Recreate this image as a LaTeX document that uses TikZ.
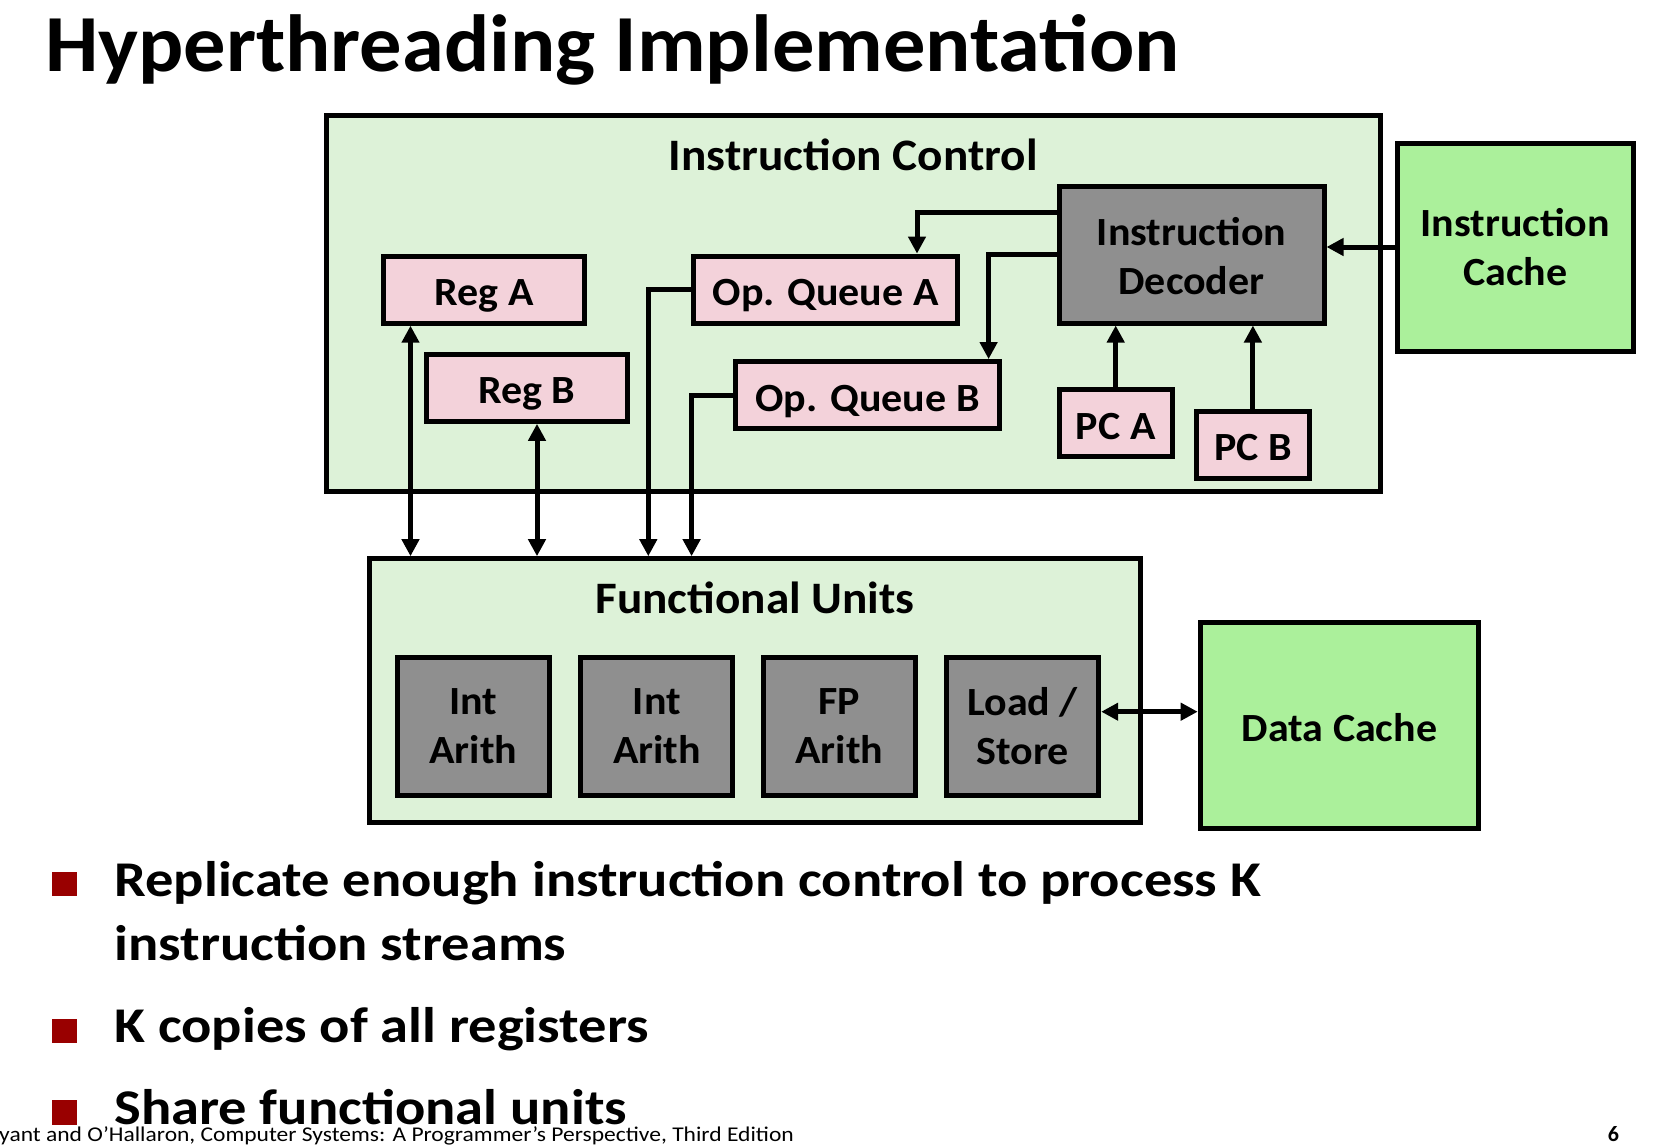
\documentclass[tikz,border=0pt]{standalone}
\usepackage{fontspec}
\setmainfont{Carlito}
\newfontfamily\titleface{Carlito}[FakeStretch=1.043]
\newfontfamily\boxface{Carlito}[FakeStretch=1.05]
\newfontfamily\bulletface{Carlito}[FakeStretch=1.13]
\newfontfamily\footface{Carlito}[FakeStretch=1.12]
\usetikzlibrary{arrows.meta}

\definecolor{ctrlgreen}{RGB}{221,242,216}
\definecolor{cachegreen}{RGB}{171,240,155}
\definecolor{regpink}{RGB}{243,210,218}
\definecolor{unitgray}{RGB}{143,143,143}
\definecolor{bulletred}{RGB}{153,0,0}

\begin{document}
\begin{tikzpicture}[x=1pt,y=-1pt,
  boxfont/.style={font=\boxface\bfseries\fontsize{40}{49}\selectfont},
  box/.style={draw=black, line width=5pt, inner sep=0pt, align=center, boxfont},
  oneline/.style={text height=32pt, text depth=0pt},
  pinkbox/.style={box, oneline, fill=regpink, minimum height=67pt},
  graybox/.style={box, fill=unitgray},
  unitbox/.style={graybox, minimum width=152pt, minimum height=138pt},
  cachebox/.style={box, fill=cachegreen},
  areabox/.style={draw=black, line width=5pt, fill=ctrlgreen, inner sep=0pt},
  seclabel/.style={font=\boxface\bfseries\fontsize{45}{52}\selectfont, inner sep=0pt, anchor=base},
  arr/.style={line width=5pt, -{Triangle[length=17pt,width=17pt]}},
  darr/.style={line width=5pt, {Triangle[length=17pt,width=17pt]}-{Triangle[length=17pt,width=17pt]}},
  bulletsq/.style={fill=bulletred, minimum size=24.5pt, inner sep=0pt},
  bullettext/.style={font=\bulletface\bfseries\fontsize{50}{60}\selectfont, inner sep=0pt, anchor=base west}
]
\useasboundingbox (0,0) rectangle (1673,1144);
\fill[white] (0,0) rectangle (1673,1144);

% title
\node[font=\titleface\bfseries\fontsize{81}{90}\selectfont, inner sep=0pt, anchor=base west]
  (title) at (44.8,71.7) {Hyperthreading Implementation};

% instruction control area
\node[areabox, minimum width=1053.5pt, minimum height=375.5pt] (ic) at (853.25,303.25) {};
\node[seclabel] (iclabel) at (853.25,170.7) {Instruction Control};

\node[graybox, minimum width=265pt, minimum height=137pt] (dec) at (1191.5,254.5) {\rule{0pt}{32pt}Instruction\\Decoder};
\node[cachebox, minimum width=236pt, minimum height=208pt] (icache) at (1515.4,247) {Instruction\\Cache};

\node[pinkbox, minimum width=113pt] (pca) at (1115.7,423.2) {PC A};
\node[pinkbox, minimum width=113pt] (pcb) at (1252.9,444.5) {PC B};

\node[pinkbox, minimum width=201pt] (rega) at (484.1,289.7) {Reg A};
\node[pinkbox, minimum width=201pt] (regb) at (526.6,387.8) {Reg B};

\node[pinkbox, minimum width=264.4pt] (opqa) at (825.6,289.6) {Op. Queue A};
\node[pinkbox, minimum width=264.4pt] (opqb) at (867.6,395.1) {Op. Queue B};

% functional units area
\node[areabox, minimum width=770.6pt, minimum height=264pt] (fu) at (755,690.7) {};
\node[seclabel] (fulabel) at (755,613.5) {Functional Units};

\node[unitbox] (int1) at (473.4,726) {Int\\Arith};
\node[unitbox] (int2) at (656.9,726) {Int\\Arith};
\node[unitbox] (fp)   at (839.4,726) {FP\\Arith};
\node[unitbox] (ls)   at (1022.7,726) {Load /\\Store};

\node[cachebox, oneline, minimum width=278.6pt, minimum height=206pt] (dc) at (1339.5,725.9) {Data Cache};

% connections
\draw[arr] (icache.west) -- (icache.west -| dec.east);
\draw[arr] ([yshift=42pt]dec.west) -| ([xshift=91.4pt]opqa.north);
\draw[arr] (dec.west) -| ([xshift=121pt]opqb.north);
\draw[arr] (pca.north) -- (pca.north |- dec.south);
\draw[arr] (pcb.north) -- (pcb.north |- dec.south);

\draw[darr] ([xshift=-73.6pt]rega.south) -- ([xshift=-73.6pt]rega.south |- fu.north);
\draw[darr] ([xshift=10.4pt]regb.south) -- ([xshift=10.4pt]regb.south |- fu.north);
\draw[arr] (opqa.west) -| ([xshift=-106.7pt]fu.north);
\draw[arr] (opqb.west) -| ([xshift=-63.4pt]fu.north);

\draw[darr] ([yshift=14.3pt]ls.east) -- ([yshift=14.3pt]ls.east -| dc.west);

% bullet list
\node[bulletsq] (sq1) at (64.5,884) {};
\node[bullettext] (bt1) at (114.2,896) {Replicate enough instruction control to process K};
\node[bullettext] (bt1b) at (114.2,960.7) {instruction streams};
\node[bulletsq] (sq2) at (64.5,1031) {};
\node[bullettext] (bt2) at (114.2,1042.5) {K copies of all registers};
\node[bulletsq] (sq3) at (64.5,1112.5) {};
\node[bullettext] (bt3) at (114.2,1124) {Share functional units};

% footer
\node[font=\footface\fontsize{21}{24}\selectfont, inner sep=0pt, anchor=base west] (foot) at (-1,1141)
  {yant and O’Hallaron, Computer Systems: A Programmer’s Perspective, Third Edition};
\node[font=\bfseries\fontsize{22}{24}\selectfont, inner sep=0pt, anchor=base] (page) at (1613.5,1141) {6};
\end{tikzpicture}
\end{document}
